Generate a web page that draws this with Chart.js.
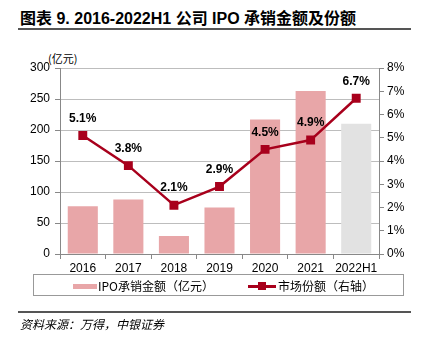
<!DOCTYPE html>
<html><head><meta charset="utf-8">
<script src="https://cdn.jsdelivr.net/npm/chart.js@4/dist/chart.umd.min.js"></script>
<style>
html,body{margin:0;padding:0;background:#fff;}
#wrap{position:relative;width:424px;height:339px;overflow:hidden;font-family:"Liberation Sans",Arial,sans-serif;}
#c{position:absolute;left:0;top:0;}
.title{position:absolute;left:20px;top:5px;font-weight:bold;font-size:16px;color:#000;font-family:"Liberation Sans","Noto Sans CJK SC",sans-serif;white-space:nowrap;}
.hline{position:absolute;left:18px;width:393px;background:#555;}
.unit{position:absolute;left:48px;top:50px;font-size:11px;color:#000;font-family:"Noto Sans CJK SC",sans-serif;}
.legend{position:absolute;left:33px;top:274px;width:371px;height:22px;border:1px solid #999;box-sizing:border-box;font-size:12px;font-family:"Noto Sans CJK SC",sans-serif;color:#000;}
.legend span{position:absolute;top:2px;white-space:nowrap;}
.sw{position:absolute;}
.foot{position:absolute;left:20px;top:315px;font-size:12px;font-style:italic;font-family:"Noto Sans CJK SC",sans-serif;color:#000;}
</style></head>
<body><div id="wrap">
<div class="title">图表 9. 2016-2022H1 公司 IPO 承销金额及份额</div>
<div class="hline" style="top:28px;height:2px;"></div>
<div class="unit">(亿元)</div>
<canvas id="c" width="424" height="339"></canvas>
<div class="legend">
  <div class="sw" style="left:39px;top:9px;width:24px;height:5px;background:#E8A6A8;"></div>
  <span style="left:64px;">IPO承销金额（亿元）</span>
  <div class="sw" style="left:214px;top:10px;width:28px;height:2.5px;background:#A8001C;"></div>
  <div class="sw" style="left:224px;top:7px;width:8px;height:8px;background:#A8001C;"></div>
  <span style="left:244px;">市场份额（右轴）</span>
</div>
<div class="hline" style="top:311px;height:2px;"></div>
<div class="foot">资料来源：万得，中银证券</div>
</div>
<script>
const categories = ["2016","2017","2018","2019","2020","2021","2022H1"];
const ipoAmount = [77, 88, 29, 75, 217, 263, 210];
const marketShare = [5.1, 3.8, 2.1, 2.9, 4.5, 4.9, 6.7];
const shareLabels = ["5.1%","3.8%","2.1%","2.9%","4.5%","4.9%","6.7%"];
const barColors = ["#E8A6A8","#E8A6A8","#E8A6A8","#E8A6A8","#E8A6A8","#E8A6A8","#E2E2E2"];

const labelPlugin = {
  id: 'pointLabels',
  afterDatasetsDraw(chart) {
    const ctx = chart.ctx;
    const meta = chart.getDatasetMeta(0);
    ctx.save();
    ctx.font = 'bold 12px "Liberation Sans", Arial, sans-serif';
    ctx.fillStyle = '#000';
    ctx.textAlign = 'center';
    ctx.textBaseline = 'middle';
    meta.data.forEach((pt, i) => {
      ctx.fillText(shareLabels[i], pt.x, pt.y - 17);
    });
    ctx.restore();
  }
};

new Chart(document.getElementById('c'), {
  data: {
    labels: categories,
    datasets: [
      {
        type: 'line',
        label: '市场份额（右轴）',
        data: marketShare,
        yAxisID: 'y2',
        borderColor: '#A8001C',
        backgroundColor: '#A8001C',
        borderWidth: 2.5,
        pointStyle: 'rect',
        pointRadius: 6.3,
        pointBorderWidth: 0,
        tension: 0,
        order: 0
      },
      {
        type: 'bar',
        label: 'IPO承销金额（亿元）',
        data: ipoAmount,
        yAxisID: 'y',
        backgroundColor: barColors,
        barPercentage: 0.66,
        categoryPercentage: 1,
        order: 1
      }
    ]
  },
  options: {
    responsive: false,
    animation: false,
    devicePixelRatio: 1,
    layout: { padding: { left: 0, right: 0, top: 68, bottom: 0 } },
    plugins: { legend: { display: false }, tooltip: { enabled: false } },
    scales: {
      x: {
        offset: true,
        grid: { offset: true, drawOnChartArea: false, tickLength: 5, tickColor: '#888', color: '#888' },
        border: { color: '#888', width: 1 },
        ticks: { color: '#000', font: { size: 12, family: '"Liberation Sans", Arial, sans-serif' }, padding: 2, maxRotation: 0, autoSkip: false },
        afterFit(s) { s.height = 85; }
      },
      y: {
        position: 'left',
        min: 0, max: 300,
        ticks: { stepSize: 50, color: '#000', font: { size: 12, family: '"Liberation Sans", Arial, sans-serif' }, padding: 5 },
        grid: { color: '#BDBDBD', borderDash: [2, 2], tickLength: 5, tickColor: '#888', tickBorderDash: [] },
        border: { color: '#888', width: 1 },
        afterFit(s) { s.width = 60; }
      },
      y2: {
        position: 'right',
        min: 0, max: 8,
        ticks: { stepSize: 1, color: '#000', font: { size: 12, family: '"Liberation Sans", Arial, sans-serif' }, padding: 3, callback: v => v + '%' },
        grid: { drawOnChartArea: false, tickLength: 5, tickColor: '#888' },
        border: { color: '#888', width: 1 },
        afterFit(s) { s.width = 45; }
      }
    }
  },
  plugins: [labelPlugin]
});
</script>
</body></html>
